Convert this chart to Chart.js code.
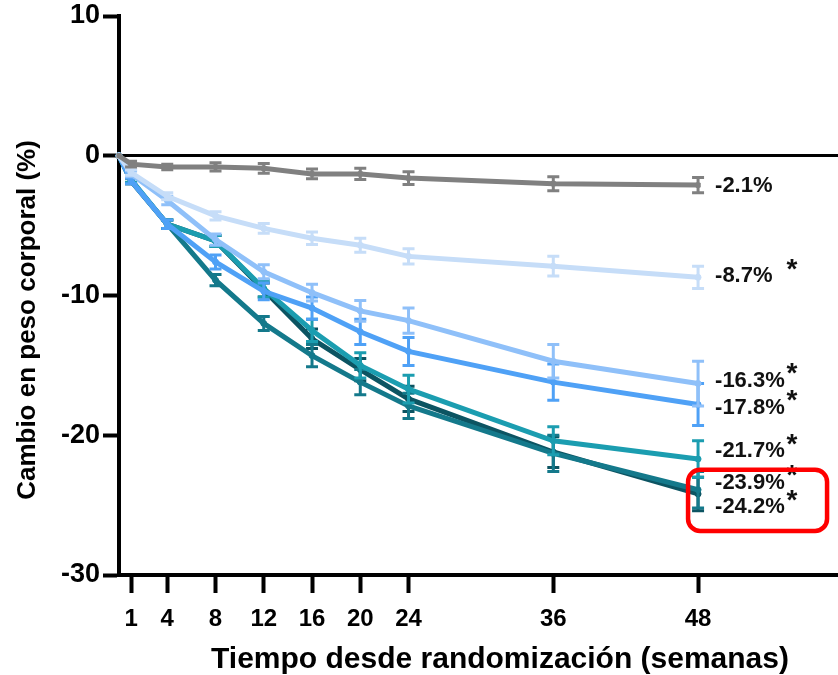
<!DOCTYPE html>
<html>
<head>
<meta charset="utf-8">
<script src="https://cdn.jsdelivr.net/npm/chart.js@4.4.1/dist/chart.umd.min.js"></script>
<style>
  html, body { margin: 0; padding: 0; background: #fff; overflow: hidden; }
  #wrap { width: 838px; height: 675px; position: relative; }
  canvas { display: block; }
</style>
</head>
<body>
<div id="wrap"><canvas id="chart"></canvas></div>
<script>
// weeks since randomisation
const weeks = [0, 1, 4, 8, 12, 16, 20, 24, 36, 48];
const xTicks = [1, 4, 8, 12, 16, 20, 24, 36, 48];
const yTicks = [10, 0, -10, -20, -30];

// mean % change in body weight per group
const placebo = [0, -0.6, -0.8, -0.8, -0.9, -1.3, -1.3, -1.6, -2.0, -2.1];
const group1 = [0, -1.2, -2.9, -4.3, -5.2, -5.9, -6.4, -7.2, -7.9, -8.7];
const group2 = [0, -1.3, -3.2, -6.0, -8.3, -9.8, -11.1, -11.8, -14.7, -16.3];
const group3 = [0, -1.8, -4.9, -7.6, -9.7, -10.9, -12.6, -14.0, -16.2, -17.8];
const group4 = [0, -1.7, -4.9, -6.1, -9.5, -12.5, -15.0, -16.7, -20.4, -21.7];
const group5 = [0, -1.8, -4.9, -8.9, -12.0, -14.3, -16.2, -17.9, -21.3, -23.9];
const group6 = [0, -1.8, -4.9, -6.1, -9.6, -13.1, -15.3, -17.4, -21.2, -24.2];

// standard errors (same points)
const placeboErr = [0, 0.2, 0.2, 0.3, 0.35, 0.35, 0.4, 0.45, 0.5, 0.55];
const group1Err = [0, 0.2, 0.25, 0.3, 0.35, 0.45, 0.5, 0.55, 0.7, 0.8];
const group2Err = [0, 0.2, 0.3, 0.4, 0.5, 0.6, 0.75, 0.9, 1.2, 1.6];
const group3Err = [0, 0.2, 0.3, 0.5, 0.6, 0.8, 0.9, 1.0, 1.3, 1.5];
const group4Err = [0, 0.2, 0.3, 0.4, 0.6, 0.8, 0.9, 1.0, 1.0, 1.3];
const group5Err = [0, 0.2, 0.3, 0.4, 0.5, 0.8, 0.9, 0.9, 1.3, 1.3];
const group6Err = [0, 0.2, 0.3, 0.4, 0.5, 0.7, 0.8, 0.9, 1.1, 1.2];

const seriesNames = ['Placebo', 'Grupo 1', 'Grupo 2', 'Grupo 3', 'Grupo 4', 'Grupo 5', 'Grupo 6'];
const seriesValues = [placebo, group1, group2, group3, group4, group5, group6];
const seriesErrors = [placeboErr, group1Err, group2Err, group3Err, group4Err, group5Err, group6Err];
const significant = [false, true, true, true, true, true, true];

const colors = ['#808080', '#c6ddf8', '#8fc0f9', '#4fa1f6', '#1b9db0', '#14798b', '#0c5462'];
// vertical nudge (px) of the end labels so they don't collide
const labelNudge = [0.5, -1.5, -3, 3, -8, -7, 13];

const FONT = "'Liberation Sans', Arial, sans-serif";

const errorBars = {
  id: 'errorBars',
  afterDatasetDraw(chart, args) {
    const i = args.index;
    const meta = args.meta;
    const y = chart.scales.y;
    const ctx = chart.ctx;
    ctx.save();
    ctx.strokeStyle = colors[i];
    ctx.lineWidth = 3;
    seriesValues[i].forEach((v, k) => {
      const e = seriesErrors[i][k];
      if (!e) return;
      const px = meta.data[k].x;
      const top = y.getPixelForValue(v + e);
      const bot = y.getPixelForValue(v - e);
      ctx.beginPath();
      ctx.moveTo(px, top); ctx.lineTo(px, bot);
      ctx.moveTo(px - 6, top); ctx.lineTo(px + 6, top);
      ctx.moveTo(px - 6, bot); ctx.lineTo(px + 6, bot);
      ctx.stroke();
    });
    ctx.restore();
  }
};

const annotations = {
  id: 'annotations',
  afterDraw(chart) {
    const ctx = chart.ctx;
    const x = chart.scales.x;
    const y = chart.scales.y;
    const last = weeks.length - 1;
    const lx = x.getPixelForValue(weeks[last]) + 17;
    const labelY = [];
    ctx.save();
    ctx.fillStyle = '#111';
    ctx.textBaseline = 'middle';
    seriesValues.forEach((vals, i) => {
      const v = vals[last];
      const ly = y.getPixelForValue(v) + labelNudge[i];
      labelY.push(ly);
      ctx.font = 'bold 22px ' + FONT;
      ctx.textAlign = 'left';
      ctx.fillText(v.toFixed(1) + '%', lx, ly);
      if (significant[i]) {
        ctx.font = 'bold 28px ' + FONT;
        ctx.textAlign = 'center';
        ctx.fillText('*', lx + 77, ly - 6);
      }
    });

    // highlight box round the two highest-dose groups
    const bx = x.getPixelForValue(weeks[last]) - 10;
    const by = labelY[5] - 13;
    const bh = labelY[6] + 24 - by;
    ctx.strokeStyle = '#ff0000';
    ctx.lineWidth = 4.5;
    ctx.beginPath();
    ctx.roundRect(bx, by, 139, bh, 12);
    ctx.stroke();

    // axis titles
    ctx.fillStyle = '#000';
    ctx.textAlign = 'center';
    ctx.font = 'bold 30px ' + FONT;
    ctx.fillText('Tiempo desde randomización (semanas)', 500, 660);
    ctx.translate(28, 320);
    ctx.rotate(-Math.PI / 2);
    ctx.font = 'bold 26px ' + FONT;
    ctx.fillText('Cambio en peso corporal (%)', 0, 0);
    ctx.restore();
  }
};

new Chart(document.getElementById('chart'), {
  type: 'line',
  data: {
    datasets: seriesValues.map((vals, i) => ({
      label: seriesNames[i],
      data: vals.map((v, k) => ({ x: weeks[k], y: v })),
      borderColor: colors[i],
      backgroundColor: colors[i],
      borderWidth: 5,
      pointRadius: 3,
      pointHoverRadius: 3,
      pointBorderWidth: 1,
      pointStyle: i === 0 ? 'rect' : 'circle',
      tension: 0,
      clip: false,
    })),
  },
  options: {
    responsive: true,
    maintainAspectRatio: false,
    animation: false,
    layout: { autoPadding: false, padding: { top: 16, right: 0, bottom: 0, left: 0 } },
    plugins: { legend: { display: false }, tooltip: { enabled: false } },
    scales: {
      x: {
        type: 'linear',
        min: 0,
        max: 59.6,
        afterBuildTicks: s => { s.ticks = xTicks.map(v => ({ value: v })); },
        border: { color: '#000', width: 4 },
        grid: { drawOnChartArea: false, tickColor: '#000', tickWidth: 4, tickLength: 18 },
        ticks: {
          color: '#000', autoSkip: false, maxRotation: 0, padding: 12,
          font: { family: FONT, weight: 'bold', size: 24 },
        },
        afterFit: s => { s.height = 100; s.paddingLeft = 0; s.paddingRight = 0; },
      },
      y: {
        min: -30,
        max: 10,
        afterBuildTicks: s => { s.ticks = yTicks.map(v => ({ value: v })); },
        border: { color: '#000', width: 4 },
        grid: {
          color: c => (c.tick && c.tick.value === 0 ? '#000' : 'rgba(0,0,0,0)'),
          lineWidth: c => (c.tick && c.tick.value === 0 ? 3 : 1),
          tickColor: '#000', tickWidth: 4, tickLength: 16,
        },
        ticks: {
          color: '#000', padding: 3,
          font: { family: FONT, weight: 'bold', size: 27 },
        },
        afterFit: s => { s.width = 119; s.paddingTop = 0; s.paddingBottom = 0; },
      },
    },
  },
  plugins: [errorBars, annotations],
});
</script>
</body>
</html>
